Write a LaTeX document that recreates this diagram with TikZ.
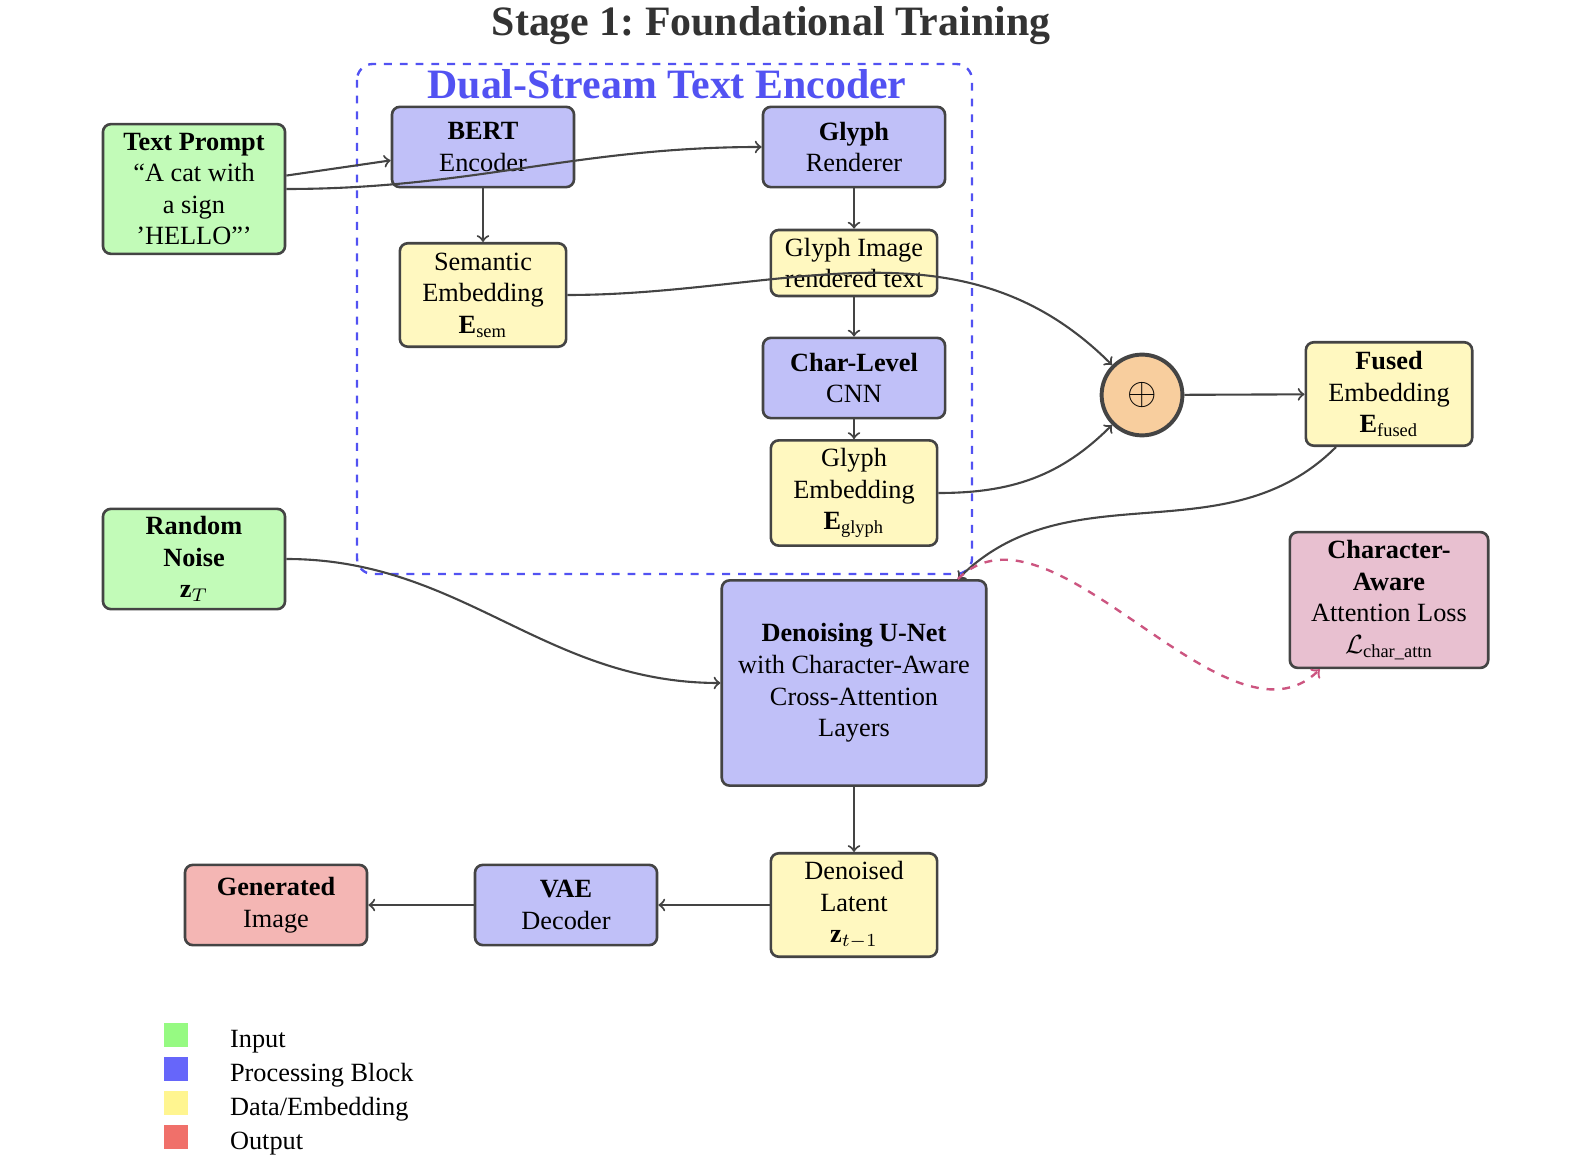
\documentclass[tikz,border=0pt]{standalone}
\usepackage{fontspec}
\setmainfont{Liberation Serif}
\usepackage{amsmath}
\usepackage{xcolor}

\definecolor{edgegray}{HTML}{444444}
\definecolor{titlegray}{HTML}{333333}
\definecolor{encblue}{HTML}{5252F2}
\definecolor{inpfill}{HTML}{C2FBB8}
\definecolor{procfill}{HTML}{C0C0F8}
\definecolor{datafill}{HTML}{FFF8C0}
\definecolor{outfill}{HTML}{F4B6B4}
\definecolor{lossfill}{HTML}{E8C0D0}
\definecolor{fusefill}{HTML}{F8CE9E}
\definecolor{losspink}{HTML}{CC5580}
\definecolor{leginp}{HTML}{96FA82}
\definecolor{legproc}{HTML}{6666FA}
\definecolor{legdata}{HTML}{FFF590}
\definecolor{legout}{HTML}{F0706A}

\begin{document}
\begin{tikzpicture}[%
  x=0.38pt, y=-0.38pt,
  box/.style={draw=edgegray, line width=1pt, rounded corners=3pt, align=center, inner sep=2pt},
  inp/.style={box, fill=inpfill, minimum width=69.2pt},
  proc/.style={box, fill=procfill, minimum width=69.2pt, minimum height=30.5pt},
  data/.style={box, fill=datafill, minimum width=63.2pt, minimum height=39.3pt},
  outp/.style={box, fill=outfill, minimum width=69.2pt, minimum height=30.5pt},
  flow/.style={->, draw=edgegray, line width=0.8pt},
  lossflow/.style={->, draw=losspink, dashed, line width=0.9pt},
  heading/.style={font=\fontsize{15.9}{19}\selectfont\bfseries\frenchspacing},
  legbox/.style={minimum size=9.1pt, inner sep=0pt},
  legtext/.style={anchor=base west, inner sep=0pt}]
\useasboundingbox (0,0) rectangle (1580,1170);

% titles and encoder frame
\node[heading, text=titlegray] (title) at (771,26) {Stage 1: Foundational Training};
\draw[encblue, dashed, line width=0.9pt, rounded corners=6pt] (357,64) rectangle (972,574);
\node[heading, text=encblue] (enclabel) at (667,84) {Dual-Stream Text Encoder};

% inputs
\node[inp, minimum height=49.3pt] (prompt) at (194,189)
  {\textbf{Text Prompt}\\“A cat with\\a sign\\’HELLO”’};
\node[inp, minimum height=38.1pt] (noise) at (194,559)
  {\textbf{Random}\\\textbf{Noise}\\$\mathbf{z}_T$};

% text encoder
\node[proc] (bert) at (483,147) {\textbf{BERT}\\Encoder};
\node[proc] (glyphr) at (854,147) {\textbf{Glyph}\\Renderer};
\node[data] (sem) at (483,295) {Semantic\\Embedding\\$\mathbf{E}_{\text{sem}}$};
\node[data, minimum height=25.1pt] (glyphimg) at (854,263) {Glyph Image\\rendered text};
\node[proc] (cnn) at (854,378) {\textbf{Char-Level}\\CNN};
\node[data, minimum height=40pt] (glyphemb) at (854,493)
  {Glyph\\Embedding\\$\mathbf{E}_{\text{glyph}}$};

% fusion
\node[circle, draw=edgegray, line width=1.5pt, fill=fusefill, minimum size=30.7pt, inner sep=0pt,
  font=\Large] (fuse) at (1142,395) {$\oplus$};
\node[data] (fused) at (1389,394) {\textbf{Fused}\\Embedding\\$\mathbf{E}_{\text{fused}}$};

% denoising
\node[proc, minimum width=100.5pt, minimum height=78pt] (unet) at (854,683)
  {\textbf{Denoising U-Net}\\with Character-Aware\\Cross-Attention\\Layers};
\node[box, fill=lossfill, minimum width=75.4pt, minimum height=51.6pt] (loss) at (1389,600)
  {\textbf{Character-}\\\textbf{Aware}\\Attention Loss\\$\mathcal{L}_{\text{char\_attn}}$};
\node[data] (latent) at (854,905) {Denoised\\Latent\\$\mathbf{z}_{t-1}$};
\node[proc] (vae) at (566,905) {\textbf{VAE}\\Decoder};
\node[outp] (gen) at (276,905) {\textbf{Generated}\\Image};

% connections
\draw[flow] (prompt) -- (bert);
\draw[flow] (prompt) to[out=0,in=180] (glyphr);
\draw[flow] (bert) -- (sem);
\draw[flow] (glyphr) -- (glyphimg);
\draw[flow] (glyphimg) -- (cnn);
\draw[flow] (cnn) -- (glyphemb);
\draw[flow] (sem) to[out=0,in=135] (fuse);
\draw[flow] (glyphemb) to[out=0,in=-135] (fuse);
\draw[flow] (fuse) -- (fused);
\draw[flow] (fused) to[out=-135,in=45] (unet);
\draw[flow] (noise) to[out=0,in=180] (unet);
\draw[lossflow] (unet) to[out=45,in=-135,looseness=0.9] (loss);
\draw[flow] (unet) -- (latent);
\draw[flow] (latent) -- (vae);
\draw[flow] (vae) -- (gen);

% legend
\foreach \name/\col/\txt [count=\i] in {legi/leginp/Input, legp/legproc/Processing Block,
    legd/legdata/{Data/Embedding}, lego/legout/Output} {
  \node[legbox, fill=\col] (\name) at (176,1001+34*\i) {};
  \node[legtext] (\name txt) at ([xshift=15.6pt]\name.south east) {\txt};
}
\end{tikzpicture}
\end{document}
